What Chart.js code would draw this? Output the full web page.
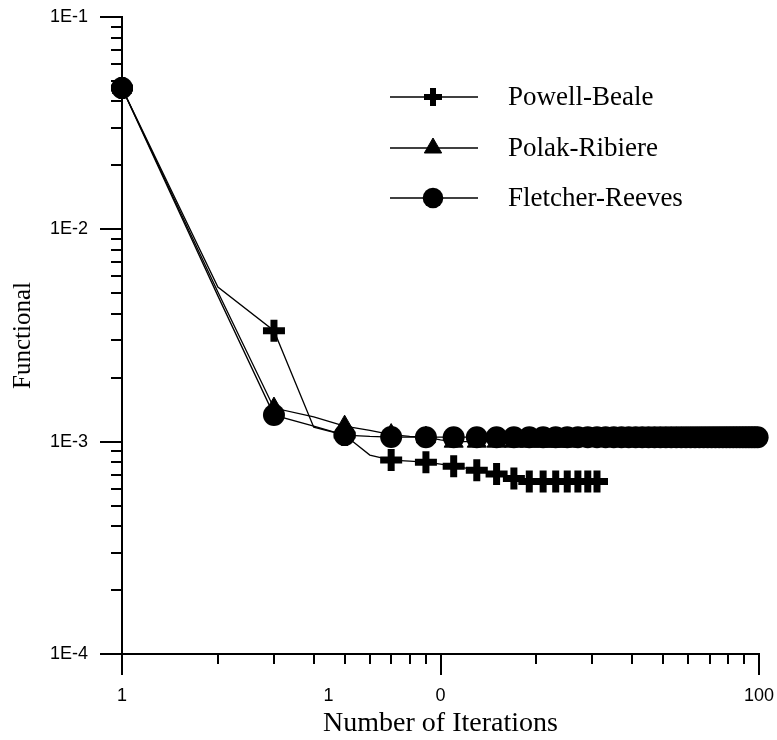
<!DOCTYPE html>
<html>
<head>
<meta charset="utf-8">
<title>Functional vs Number of Iterations</title>
<script src="https://cdn.jsdelivr.net/npm/chart.js"></script>
<style>
  html, body { margin: 0; padding: 0; background: #fff; }
  #wrap { width: 777px; height: 740px; }
</style>
</head>
<body>
<div id="wrap"><canvas id="convChart" width="777" height="740"></canvas></div>
<script>
// iteration number of every point (x axis, log)
var iterations = [
   1,  2,  3,  4,  5,  6,  7,  8,  9, 10,
  11, 12, 13, 14, 15, 16, 17, 18, 19, 20,
  21, 22, 23, 24, 25, 26, 27, 28, 29, 30,
  31, 32, 33, 34, 35, 36, 37, 38, 39, 40,
  41, 42, 43, 44, 45, 46, 47, 48, 49, 50,
  51, 52, 53, 54, 55, 56, 57, 58, 59, 60,
  61, 62, 63, 64, 65, 66, 67, 68, 69, 70,
  71, 72, 73, 74, 75, 76, 77, 78, 79, 80,
  81, 82, 83, 84, 85, 86, 87, 88, 89, 90,
  91, 92, 93, 94, 95, 96, 97, 98, 99
];

// functional value per iteration
var powellBeale = [
  0.0463, 0.00535, 0.00333, 0.00117, 0.001074, 0.000865, 0.000819, 0.00081, 0.000801, 0.000784,
  0.000767, 0.00075, 0.000734, 0.000719, 0.000704, 0.000687, 0.00067, 0.00066, 0.00065, 0.00065,
  0.00065, 0.00065, 0.00065, 0.00065, 0.00065, 0.00065, 0.00065, 0.00065, 0.00065, 0.00065,
  0.00065
];

var polakRibiere = [
  0.0463, 0.00507, 0.00144, 0.00131, 0.001183, 0.00113, 0.00108, 0.00106, 0.00105, 0.00102,
  0.001, 0.001, 0.001, 0.001, 0.001, 0.001, 0.001, 0.001, 0.001, 0.001,
  0.001, 0.001, 0.001, 0.001, 0.001
];

var fletcherReeves = [
  0.0463, 0.00486, 0.001334, 0.001185, 0.001074, 0.001058, 0.001051, 0.00105, 0.00105, 0.00105,
  0.00105, 0.00105, 0.00105, 0.00105, 0.00105, 0.00105, 0.00105, 0.00105, 0.00105, 0.00105,
  0.00105, 0.00105, 0.00105, 0.00105, 0.00105, 0.00105, 0.00105, 0.00105, 0.00105, 0.00105,
  0.00105, 0.00105, 0.00105, 0.00105, 0.00105, 0.00105, 0.00105, 0.00105, 0.00105, 0.00105,
  0.00105, 0.00105, 0.00105, 0.00105, 0.00105, 0.00105, 0.00105, 0.00105, 0.00105, 0.00105,
  0.00105, 0.00105, 0.00105, 0.00105, 0.00105, 0.00105, 0.00105, 0.00105, 0.00105, 0.00105,
  0.00105, 0.00105, 0.00105, 0.00105, 0.00105, 0.00105, 0.00105, 0.00105, 0.00105, 0.00105,
  0.00105, 0.00105, 0.00105, 0.00105, 0.00105, 0.00105, 0.00105, 0.00105, 0.00105, 0.00105,
  0.00105, 0.00105, 0.00105, 0.00105, 0.00105, 0.00105, 0.00105, 0.00105, 0.00105, 0.00105,
  0.00105, 0.00105, 0.00105, 0.00105, 0.00105, 0.00105, 0.00105, 0.00105, 0.00105
];

var seriesNames = ['Powell-Beale', 'Polak-Ribiere', 'Fletcher-Reeves'];

// tick labels as printed on the original
var xTickValues = [1, 4.45, 10, 100];
var xTickLabels = ['1', '1', '0', '100'];
var yTickValues = [0.0001, 0.001, 0.01, 0.1];
var yTickLabels = ['1E-4', '1E-3', '1E-2', '1E-1'];

var SERIF = '"Liberation Serif", "Times New Roman", serif';
Chart.defaults.font.family = '"Liberation Sans", Arial, sans-serif';
Chart.defaults.color = '#000';

// markers only on every second iteration
function oddOnly(r) {
  return function(ctx) { return ctx.dataIndex % 2 === 0 ? r : 0; };
}

// major/minor log tick marks, drawn under the data
var logTickMarks = {
  id: 'logTickMarks',
  beforeDatasetsDraw: function(chart) {
    var ctx = chart.ctx, xs = chart.scales.x, ys = chart.scales.y, area = chart.chartArea;
    ctx.save();
    ctx.strokeStyle = '#000';
    ctx.lineWidth = 2;
    ctx.beginPath();
    [1, 10, 100].forEach(function(d) {
      for (var m = 1; m < 10; m++) {
        if (d === 100 && m > 1) break;
        var px = Math.round(xs.getPixelForValue(d * m));
        ctx.moveTo(px, area.bottom);
        ctx.lineTo(px, area.bottom + (m === 1 ? 21 : 10));
      }
    });
    [0.0001, 0.001, 0.01, 0.1].forEach(function(d) {
      for (var m = 1; m < 10; m++) {
        if (d === 0.1 && m > 1) break;
        var py = Math.round(ys.getPixelForValue(d * m));
        ctx.moveTo(area.left - (m === 1 ? 22 : 11), py);
        ctx.lineTo(area.left, py);
      }
    });
    ctx.stroke();
    ctx.restore();
  }
};

var legendMarkers = [
  {radius: 9, borderWidth: 6},
  {radius: 10, borderWidth: 1},
  {radius: 10.3, borderWidth: 0}
];

var inlineLegend = {
  id: 'inlineLegend',
  afterDraw: function(chart) {
    var ctx = chart.ctx;
    var rows = [97, 148, 198];
    ctx.save();
    chart.data.datasets.forEach(function(ds, i) {
      var yRow = rows[i];
      ctx.strokeStyle = '#000';
      ctx.fillStyle = '#000';
      ctx.lineWidth = 1.3;
      ctx.beginPath();
      ctx.moveTo(390, yRow);
      ctx.lineTo(478, yRow);
      ctx.stroke();
      ctx.lineWidth = legendMarkers[i].borderWidth || 0.01;
      Chart.helpers.drawPoint(ctx, {
        pointStyle: ds.pointStyle,
        rotation: 0,
        radius: legendMarkers[i].radius,
        borderWidth: legendMarkers[i].borderWidth
      }, 433, yRow);
      ctx.font = '27px ' + SERIF;
      ctx.textBaseline = 'middle';
      ctx.textAlign = 'left';
      ctx.fillText(ds.label, 508, yRow + 1);
    });
    ctx.restore();
  }
};

var ctxConv = document.getElementById('convChart');
var config_conv = {
  type: 'line',
  data: {
    labels: iterations,
    datasets: [{
      label: seriesNames[0],
      data: powellBeale,
      order: 3,
      borderColor: '#000',
      backgroundColor: '#000',
      borderWidth: 1.3,
      pointStyle: 'cross',
      pointRadius: oddOnly(11),
      pointBorderWidth: 7,
      pointBorderColor: '#000',
      pointBackgroundColor: '#000'
    }, {
      label: seriesNames[1],
      data: polakRibiere,
      order: 2,
      borderColor: '#000',
      backgroundColor: '#000',
      borderWidth: 1.3,
      pointStyle: 'triangle',
      pointRadius: oddOnly(11),
      pointBorderWidth: 1,
      pointBorderColor: '#000',
      pointBackgroundColor: '#000'
    }, {
      label: seriesNames[2],
      data: fletcherReeves,
      order: 1,
      borderColor: '#000',
      backgroundColor: '#000',
      borderWidth: 1.3,
      pointStyle: 'circle',
      pointRadius: oddOnly(11),
      pointBorderWidth: 0,
      pointBorderColor: '#000',
      pointBackgroundColor: '#000'
    }]
  },
  options: {
    responsive: false,
    animation: false,
    events: [],
    devicePixelRatio: 1,
    layout: { autoPadding: false, padding: { top: 17, right: 18, left: 0, bottom: 0 } },
    datasets: {
      line: { tension: 0, clip: false, fill: false }
    },
    plugins: {
      colors: { enabled: false },
      legend: { display: false },
      tooltip: { enabled: false }
    },
    scales: {
      x: {
        type: 'logarithmic',
        min: 1,
        max: 100,
        grid: { display: true, drawOnChartArea: false, drawTicks: false },
        border: { display: true, color: '#000', width: 2 },
        afterBuildTicks: function(scale) {
          scale.ticks = xTickValues.map(function(v) { return {value: v}; });
        },
        afterFit: function(scale) {
          scale.height = 86;
          scale.paddingLeft = 0;
          scale.paddingRight = 0;
        },
        ticks: {
          autoSkip: false,
          maxRotation: 0,
          minRotation: 0,
          padding: 31,
          font: { size: 18 },
          callback: function(value, index) { return xTickLabels[index]; }
        },
        title: {
          display: true,
          text: 'Number of Iterations',
          font: { family: SERIF, size: 28, lineHeight: 1 },
          padding: { top: 0, bottom: 2 }
        }
      },
      y: {
        type: 'logarithmic',
        min: 0.0001,
        max: 0.1,
        grid: { display: true, drawOnChartArea: false, drawTicks: false },
        border: { display: true, color: '#000', width: 2 },
        afterBuildTicks: function(scale) {
          scale.ticks = yTickValues.map(function(v) { return {value: v}; });
        },
        afterFit: function(scale) {
          scale.width = 122;
          scale.paddingTop = 0;
          scale.paddingBottom = 0;
        },
        ticks: {
          autoSkip: false,
          padding: 34,
          font: { size: 18 },
          callback: function(value, index) { return yTickLabels[index]; }
        },
        title: {
          display: true,
          text: 'Functional',
          font: { family: SERIF, size: 25, lineHeight: 1 },
          padding: { top: 11, bottom: 0 }
        }
      }
    }
  },
  plugins: [logTickMarks, inlineLegend]
};

var convChart = new Chart(ctxConv, config_conv);
</script>
</body>
</html>
